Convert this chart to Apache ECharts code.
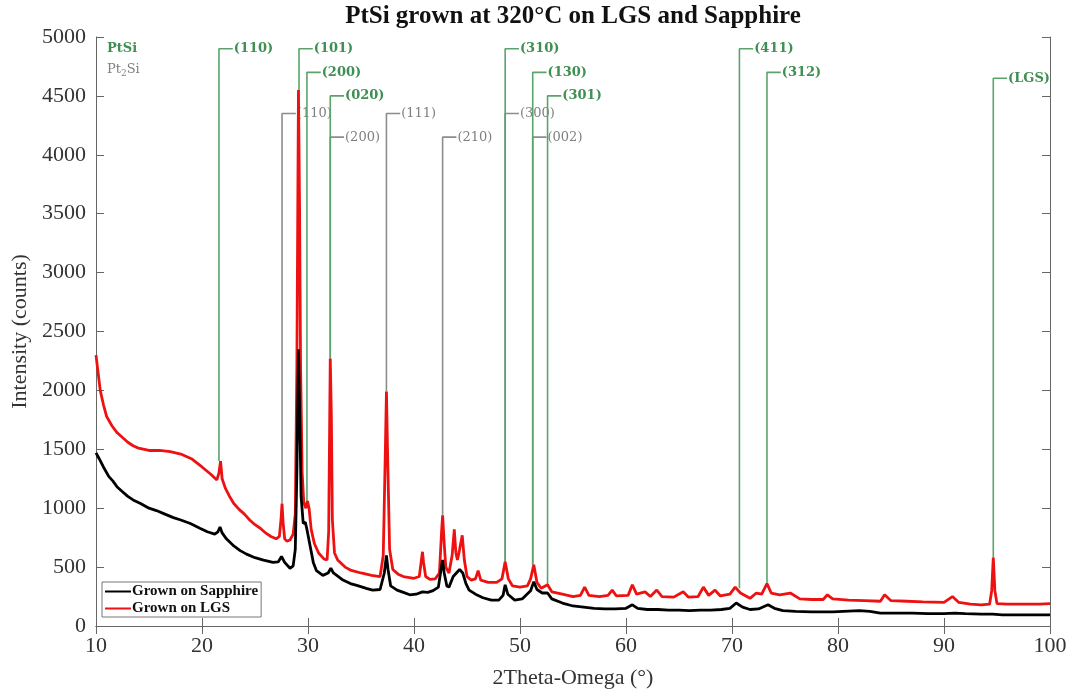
<!DOCTYPE html>
<html>
<head>
<meta charset="utf-8">
<script src="https://cdn.jsdelivr.net/npm/echarts@6/dist/echarts.min.js"></script>
<style>
html,body{margin:0;padding:0;background:#fff;}
#chart{width:1079px;height:692px;}
</style>
</head>
<body>
<div id="chart"></div>
<script>
// ---- Data ----
const xTicks = [10, 20, 30, 40, 50, 60, 70, 80, 90, 100];
const yTicks = [0, 500, 1000, 1500, 2000, 2500, 3000, 3500, 4000, 4500, 5000];

const seriesNames = ['Grown on Sapphire', 'Grown on LGS'];

// Grown on LGS (red): [2Theta, counts]
const lgsData = [
[10.0,2300],[10.2,2150],[10.4,2000],[10.7,1880],[11.0,1780],[11.5,1700],[12.0,1640],[12.5,1600],[13.0,1560],[13.5,1530],[14.0,1510],[15.0,1490],[16.0,1490],[17.0,1480],[18.0,1460],[19.0,1420],[20.0,1350],[20.8,1290],[21.4,1240],[21.6,1300],[21.75,1400],[21.9,1250],[22.2,1170],[22.6,1100],[23.0,1040],[23.5,990],[24.0,950],[24.5,900],[25.0,860],[25.5,830],[26.0,790],[26.5,760],[27.0,740],[27.3,760],[27.45,900],[27.55,1040],[27.65,880],[27.8,740],[28.0,720],[28.3,730],[28.6,780],[28.8,950],[28.95,2200],[29.1,4550],[29.2,3600],[29.3,2200],[29.45,1300],[29.6,1050],[29.8,1000],[29.95,1060],[30.1,1000],[30.3,820],[30.6,700],[31.0,620],[31.5,570],[31.8,560],[31.95,800],[32.1,2270],[32.2,1800],[32.3,900],[32.5,620],[32.8,560],[33.5,500],[34.0,475],[35.0,450],[36.0,430],[36.8,420],[37.1,600],[37.3,1500],[37.4,1990],[37.5,1500],[37.7,650],[38.0,480],[38.5,440],[39.0,420],[40.0,405],[40.5,420],[40.7,560],[40.8,630],[40.9,540],[41.1,420],[41.5,395],[42.0,400],[42.4,450],[42.6,800],[42.7,940],[42.85,700],[43.0,500],[43.3,450],[43.6,600],[43.8,820],[43.95,620],[44.1,560],[44.3,650],[44.55,770],[44.75,560],[45.0,420],[45.4,390],[45.8,400],[46.05,470],[46.3,390],[47.0,370],[47.8,370],[48.3,400],[48.6,545],[48.9,400],[49.3,340],[50.0,330],[50.7,340],[51.0,400],[51.3,520],[51.6,370],[52.0,320],[52.6,350],[53.0,290],[54.0,270],[55.0,250],[55.7,260],[56.1,330],[56.5,260],[57.5,250],[58.3,260],[58.7,305],[59.1,255],[60.2,260],[60.6,350],[61.0,270],[61.8,290],[62.3,250],[62.9,305],[63.4,250],[64.5,245],[65.4,290],[65.9,245],[66.8,250],[67.3,330],[67.8,260],[68.4,305],[68.9,255],[69.8,270],[70.3,330],[70.8,280],[71.7,235],[72.3,280],[72.8,270],[73.3,360],[73.7,280],[74.5,265],[75.5,280],[76.4,230],[77.5,225],[78.6,225],[79.0,265],[79.5,230],[81.0,220],[82.5,215],[84.0,210],[84.4,265],[85.0,215],[86.5,210],[88.0,205],[90.0,200],[90.8,250],[91.4,200],[92.5,185],[93.5,180],[94.3,185],[94.5,300],[94.65,580],[94.8,300],[95.0,190],[96.0,185],[97.5,185],[99.0,185],[100,190]
];

// Grown on Sapphire (black): [2Theta, counts]
const sapphireData = [
[10.0,1470],[10.3,1420],[10.7,1350],[11.2,1270],[11.6,1230],[12.0,1180],[12.5,1140],[13.0,1100],[13.5,1070],[14.2,1040],[15.0,1000],[15.7,980],[16.5,950],[17.3,920],[18.0,900],[18.9,870],[19.8,830],[20.5,800],[21.2,780],[21.5,800],[21.7,840],[21.9,790],[22.3,740],[23.0,680],[23.6,640],[24.2,610],[25.0,580],[25.8,560],[26.7,540],[27.2,545],[27.5,590],[27.8,540],[28.3,490],[28.6,510],[28.8,650],[28.95,1300],[29.1,2350],[29.2,1900],[29.35,1100],[29.55,870],[29.75,880],[29.9,820],[30.2,680],[30.5,540],[30.8,470],[31.4,430],[31.9,450],[32.15,490],[32.4,450],[33.3,390],[34.0,360],[34.6,345],[35.5,320],[36.1,305],[36.8,310],[37.2,450],[37.4,600],[37.55,480],[37.8,340],[38.4,305],[39.0,285],[39.6,265],[40.2,270],[40.8,290],[41.3,285],[41.8,300],[42.3,330],[42.55,480],[42.7,560],[42.85,450],[43.1,340],[43.3,330],[43.7,420],[44.0,450],[44.3,480],[44.6,450],[44.9,360],[45.2,305],[45.8,270],[46.5,240],[47.3,220],[48.0,220],[48.4,260],[48.6,350],[48.85,270],[49.5,220],[50.2,230],[51.0,300],[51.3,375],[51.6,310],[52.1,280],[52.6,280],[53.0,230],[54.0,195],[55.0,170],[56.0,160],[57.0,150],[58.0,145],[59.0,145],[60.0,150],[60.6,180],[61.1,150],[62.0,140],[63.0,140],[64.0,135],[65.0,135],[66.0,130],[67.0,135],[68.0,135],[69.0,140],[69.8,150],[70.4,195],[71.0,160],[71.7,140],[72.5,145],[73.4,180],[74.0,150],[74.8,130],[76.0,125],[77.5,120],[79.5,120],[80.5,125],[82.0,130],[83.0,125],[84.0,110],[85.5,110],[87.0,110],[88.5,105],[90.0,105],[91.0,110],[92.0,105],[93.5,100],[94.6,100],[95.5,95],[97.0,95],[98.5,95],[100,95]
];

// PtSi reference reflections (green)
const ptsiPos    = [21.6, 29.15, 29.9, 32.1, 48.6, 51.2, 52.6, 70.7, 73.3, 94.65];
const ptsiTop    = [4900, 4900, 4700, 4500, 4900, 4700, 4500, 4900, 4700, 4650];
const ptsiBase   = [1400, 4500, 1050, 2270, 545, 520, 350, 320, 360, 580];
const ptsiLabels = ['(110)','(101)','(200)','(020)','(310)','(130)','(301)','(411)','(312)','(LGS)'];

// Pt2Si reference reflections (gray)
const pt2siPos    = [27.55, 32.1, 37.4, 42.7, 48.6, 51.2];
const pt2siTop    = [4350, 4150, 4350, 4150, 4350, 4150];
const pt2siBase   = [1040, 2270, 1990, 940, 545, 520];
const pt2siLabels = ['(110)','(200)','(111)','(210)','(300)','(002)'];

// ---- Styling ----
const GREEN = '#3f8f52';
const GREEN_LINE = '#5aa36a';
const GRAY = '#808080';
const GRAY_LINE = '#8c8c8c';
const SERIF = '"Liberation Serif", "Times New Roman", serif';
const LABEL_SERIF = '"DejaVu Serif", serif';
const CONNECT = 1.3; // connector length in degrees

function refSeries(pos, top, base, labels, lineColor, textColor, weight, z) {
  return pos.map((p, i) => ({
    type: 'line',
    name: 'ref',
    silent: true,
    animation: false,
    symbol: 'none',
    z: z,
    lineStyle: { color: lineColor, width: 1.6 },
    data: [[p, base[i]], [p, top[i]], [p + CONNECT, top[i]]],
    endLabel: {
      show: true,
      formatter: labels[i],
      distance: 1,
      color: textColor,
      fontFamily: LABEL_SERIF,
      fontWeight: weight,
      fontSize: 13
    }
  }));
}

const chart = echarts.init(document.getElementById('chart'), null, { renderer: 'canvas' });

const axisLineStyle = { color: '#666', width: 1 };
const plainNum = v => String(v);

const option = {
  animation: false,
  backgroundColor: '#fff',
  grid: { left: 96, right: 29, top: 37, bottom: 66, containLabel: false, outerBoundsMode: 'none' },
  graphic: [
    {
      type: 'text', x: 573, y: 17, z: 100,
      style: {
        text: 'PtSi grown at 320°C on LGS and Sapphire',
        font: 'bold 25px ' + SERIF, fill: '#111',
        align: 'center', verticalAlign: 'middle'
      }
    },
    {
      type: 'text', x: 107, y: 42, z: 100,
      style: { text: 'PtSi', font: 'bold 13px ' + LABEL_SERIF, fill: GREEN }
    },
    {
      type: 'text', x: 107, y: 61, z: 100,
      style: {
        text: 'Pt{s|2}Si',
        rich: { s: { fontSize: 9, fontFamily: LABEL_SERIF, fill: GRAY, padding: [8, 0, 0, 0] } },
        font: '13px ' + LABEL_SERIF, fill: GRAY
      }
    }
  ],
  legend: {
    data: seriesNames,
    orient: 'vertical',
    left: 102, top: 582,
    backgroundColor: '#fff',
    borderColor: '#777', borderWidth: 1,
    padding: [1, 3, 0, 3],
    itemGap: 0,
    icon: 'rect',
    itemWidth: 26, itemHeight: 2,
    textStyle: { fontFamily: SERIF, fontWeight: 'bold', fontSize: 15, lineHeight: 17, color: '#111', padding: [0,0,0,-4] },
    z: 50
  },
  xAxis: [
    {
      type: 'value', min: 10, max: 100, interval: 10,
      name: '2Theta-Omega (°)', nameLocation: 'middle', nameGap: 41,
      nameTextStyle: { fontFamily: SERIF, fontSize: 22, color: '#333' },
      axisLine: { show: true, lineStyle: axisLineStyle },
      axisTick: { show: true, inside: true, length: 8, lineStyle: axisLineStyle },
      axisLabel: { fontFamily: SERIF, fontSize: 22, color: '#333', margin: 9, formatter: plainNum },
      splitLine: { show: false }
    },
    {
      type: 'value', min: 10, max: 100, interval: 10, position: 'top',
      axisLine: { show: true, lineStyle: axisLineStyle },
      axisTick: { show: true, inside: true, length: 8, lineStyle: axisLineStyle },
      axisLabel: { show: false },
      splitLine: { show: false }
    }
  ],
  yAxis: [
    {
      type: 'value', min: 0, max: 5000, interval: 500,
      name: 'Intensity (counts)', nameLocation: 'middle', nameGap: 63,
      nameTextStyle: { fontFamily: SERIF, fontSize: 22, color: '#333' },
      axisLine: { show: true, lineStyle: axisLineStyle },
      axisTick: { show: true, inside: true, length: 8, lineStyle: axisLineStyle },
      axisLabel: { fontFamily: SERIF, fontSize: 22, color: '#333', margin: 10, formatter: plainNum },
      splitLine: { show: false }
    },
    {
      type: 'value', min: 0, max: 5000, interval: 500, position: 'right',
      axisLine: { show: true, lineStyle: axisLineStyle },
      axisTick: { show: true, inside: true, length: 8, lineStyle: axisLineStyle },
      axisLabel: { show: false },
      splitLine: { show: false }
    }
  ],
  series: [
    ...refSeries(pt2siPos, pt2siTop, pt2siBase, pt2siLabels, GRAY_LINE, GRAY, 'normal', 2),
    ...refSeries(ptsiPos, ptsiTop, ptsiBase, ptsiLabels, GREEN_LINE, GREEN, 'bold', 3),
    {
      type: 'line', name: seriesNames[1], data: lgsData,
      symbol: 'none', z: 5,
      lineStyle: { color: '#ee1111', width: 2.8 },
      itemStyle: { color: '#ee1111' }
    },
    {
      type: 'line', name: seriesNames[0], data: sapphireData,
      symbol: 'none', z: 6,
      lineStyle: { color: '#000', width: 2.8 },
      itemStyle: { color: '#000' }
    }
  ]
};

chart.setOption(option);
</script>
</body>
</html>
